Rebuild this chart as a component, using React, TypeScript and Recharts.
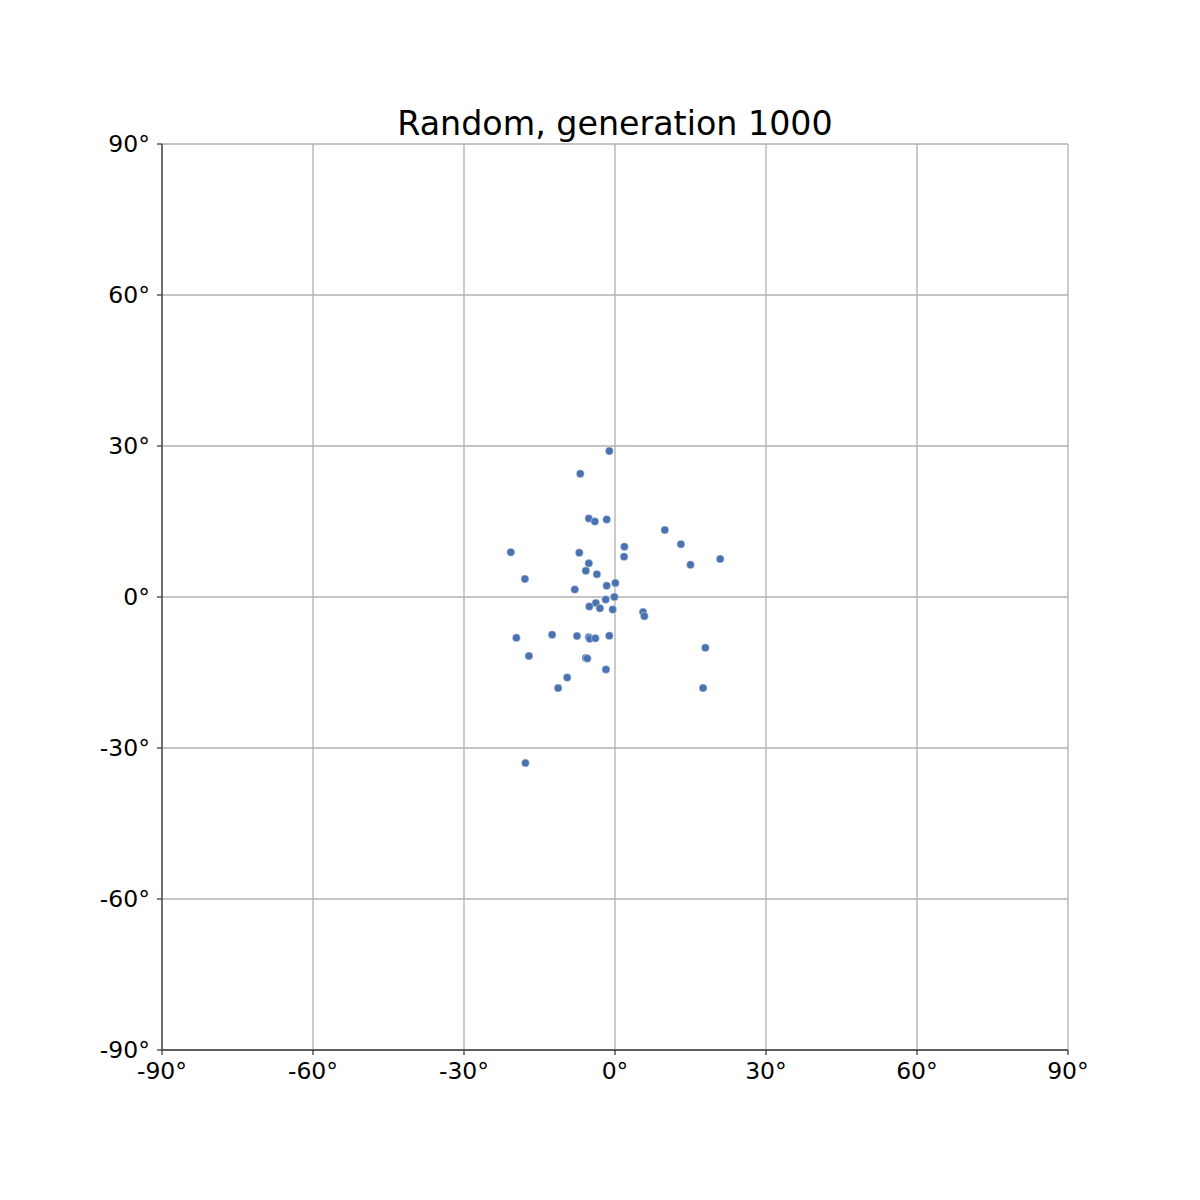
import React from "react";
import { ScatterChart, Scatter, XAxis, YAxis, CartesianGrid } from "recharts";

const longitudes = [
  -1.13, -6.9, -5.2, -4.0, -1.65, 9.9, 13.1, 1.86, -20.7, -7.1, 1.8, 20.9, 15.0,
  -5.2, -5.8, -3.6, -17.9, 0.07, -1.65, -8.0, -0.13, -1.85, -3.8, -5.1, -3.0,
  -0.46, 5.57, 5.83, -19.6, -12.5, -7.55, -5.2, -5.0, -3.9, -1.13, 17.95, -17.1,
  -5.8, -5.5, -1.8, -9.5, -11.3, 17.5, -17.8,
];
const latitudes = [
  29.0, 24.5, 15.6, 15.0, 15.4, 13.3, 10.5, 10.0, 8.9, 8.8, 8.0, 7.55, 6.4,
  6.7, 5.2, 4.5, 3.6, 2.8, 2.25, 1.5, 0.0, -0.5, -1.2, -1.9, -2.25,
  -2.5, -3.0, -3.8, -8.1, -7.5, -7.75, -8.0, -8.3, -8.2, -7.7, -10.1, -11.7,
  -12.1, -12.2, -14.4, -16.0, -18.1, -18.1, -33.0,
];
const tickValues = [-90, -60, -30, 0, 30, 60, 90];
const title = "Random, generation 1000";

const points = longitudes.map((lon, i) => ({ lon, lat: latitudes[i] }));
const fmt = (v: number) => `${v}°`;
const FONT = "DejaVu Sans";
const AXIS = "#3d3d3d";

const Dot = (props: any) => (
  <circle cx={props.cx} cy={props.cy} r={4} fill="#4a72b0" stroke="#ffffff" strokeWidth={0.4} />
);

export default function App() {
  return (
    <div style={{ position: "absolute", left: 0, top: 0, width: 1200, height: 1200, background: "#fff" }}>
      <div
        style={{
          position: "absolute",
          left: 0,
          width: 1230,
          top: 107,
          textAlign: "center",
          fontFamily: FONT,
          fontSize: 33.3,
          lineHeight: "33px",
          color: "#000",
        }}
      >
        {title}
      </div>
      <ScatterChart width={1200} height={1200} margin={{ top: 144, right: 132, left: 102, bottom: 120 }}>
        <CartesianGrid stroke="#b0b0b0" strokeWidth={1.3} />
        <XAxis
          type="number"
          dataKey="lon"
          domain={[-90, 90]}
          ticks={tickValues}
          tickFormatter={fmt}
          allowDataOverflow
          height={30}
          stroke={AXIS}
          strokeWidth={1.3}
          tickSize={5}
          tickLine={{ stroke: AXIS, strokeWidth: 1.3 }}
          tick={{ fill: "#000", fontSize: 23.5, fontFamily: FONT, dy: 5 }}
        />
        <XAxis
          xAxisId="top"
          orientation="top"
          type="number"
          dataKey="lon"
          domain={[-90, 90]}
          height={0}
          tick={false}
          tickLine={false}
          stroke={AXIS}
          strokeWidth={1.3}
        />
        <YAxis
          type="number"
          dataKey="lat"
          domain={[-90, 90]}
          ticks={tickValues}
          tickFormatter={fmt}
          allowDataOverflow
          width={60}
          stroke={AXIS}
          strokeWidth={1.3}
          tickSize={5}
          tickLine={{ stroke: AXIS, strokeWidth: 1.3 }}
          tick={{ fill: "#000", fontSize: 23.5, fontFamily: FONT, dx: -5 }}
        />
        <YAxis
          yAxisId="right"
          orientation="right"
          type="number"
          dataKey="lat"
          domain={[-90, 90]}
          width={0}
          tick={false}
          tickLine={false}
          stroke={AXIS}
          strokeWidth={1.3}
        />
        <Scatter data={points} fill="#4a72b0" shape={Dot} isAnimationActive={false} />
      </ScatterChart>
    </div>
  );
}
